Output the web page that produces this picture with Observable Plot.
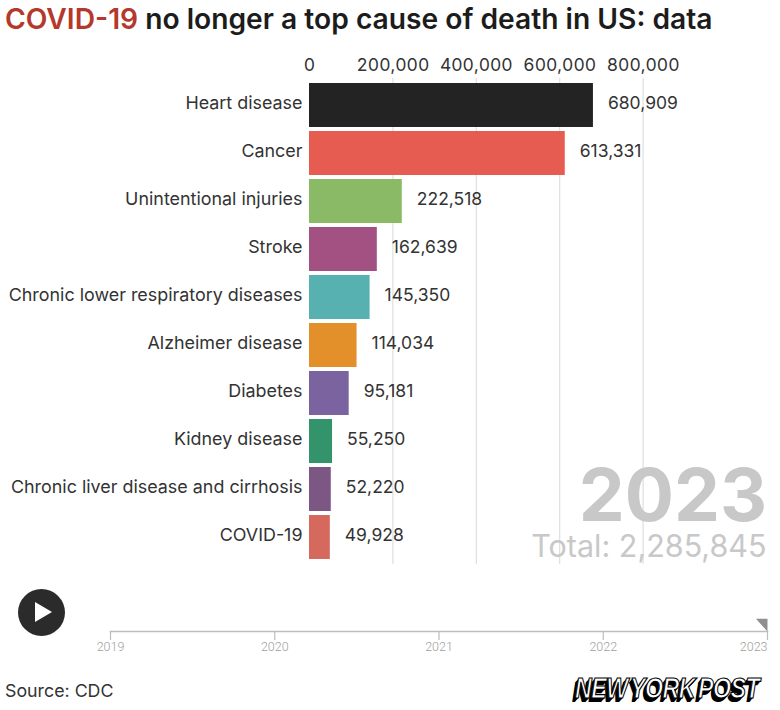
<!DOCTYPE html>
<html><head><meta charset="utf-8">
<script src="https://cdn.jsdelivr.net/npm/d3@7"></script>
<script src="https://cdn.jsdelivr.net/npm/@observablehq/plot@0.6"></script>
<style>
html,body{margin:0;background:#fff;font-family:Inter,sans-serif;}
#page{position:relative;width:780px;height:710px;overflow:hidden;}
#title{position:absolute;left:5px;top:0;font:600 28.2px/38px Inter,sans-serif;color:#1c1c1c;white-space:nowrap;}
#title b{font-weight:600;color:#b5382c;}
#chart{position:absolute;left:0;top:45px;}
#timeline{position:absolute;left:0;top:619px;}
#play{position:absolute;left:18px;top:589px;width:47px;height:47px;border-radius:50%;background:#2b2b2b;}
#play:after{content:"";position:absolute;left:17px;top:13px;border-left:17px solid #fff;border-top:10.5px solid transparent;border-bottom:10.5px solid transparent;}
#source{position:absolute;left:5px;top:680px;font:400 17.8px/22px Inter,sans-serif;color:#333;}
#logo{position:absolute;left:575px;top:671px;font:italic 700 29px/34px "Liberation Sans",sans-serif;color:#fff;-webkit-text-stroke:1.2px #000;letter-spacing:-0.6px;word-spacing:-4px;white-space:nowrap;text-shadow:-1px 1px 0 #000,-2px 2px 0 #000,-3px 3px 0 #000,-4px 4px 0 #000;transform:scaleX(0.8);transform-origin:left center;}
</style></head><body>
<div id="page">
<div id="title"><b>COVID-19</b> no longer a top cause of death in US: data</div>
<div id="chart"></div>
<div id="play"></div>
<div id="timeline"></div>
<div id="source">Source: CDC</div>
<div id="logo">NEW YORK POST</div>
</div>
<script>
const causes = ["Heart disease","Cancer","Unintentional injuries","Stroke","Chronic lower respiratory diseases","Alzheimer disease","Diabetes","Kidney disease","Chronic liver disease and cirrhosis","COVID-19"];
const deaths = [680909,613331,222518,162639,145350,114034,95181,55250,52220,49928];
const colors = ["#1f1f1f","#e5594d","#88b962","#a04e80","#55afaf","#e28e27","#78609e","#2f9268","#7a5482","#d4665a"];
const xTicks = [0,200000,400000,600000,800000];
const yearNow = ["2023"];
const totalNow = ["Total: 2,285,845"];
const years = [2019,2020,2021,2022,2023];

const rows = causes.map((c,i)=>({cause:c,value:deaths[i],color:colors[i]}));

const chart = Plot.plot({
  width:780,height:522,
  marginLeft:309,marginRight:137.4,marginTop:33,marginBottom:3,
  style:{fontFamily:"Inter, sans-serif",background:"transparent",overflow:"visible"},
  x:{domain:[0,800000],axis:null},
  y:{domain:causes,padding:0.087,axis:null},
  marks:[
    Plot.ruleX(xTicks.slice(1),{stroke:"#dcdcdc",strokeWidth:1.1}),
    Plot.barX(rows,{x:"value",y:"cause",fill:"color",fillOpacity:0.98}),
    Plot.axisX({anchor:"top",ticks:xTicks,tickFormat:d3.format(","),tickSize:0,tickPadding:7,fontSize:17.5,fill:"#333",label:null,dy:-1}),
    Plot.axisY({anchor:"left",tickSize:0,tickPadding:7,fontSize:17.9,fill:"#333",label:null,dy:-2}),
    Plot.text(rows,{x:"value",y:"cause",text:d=>d3.format(",")(d.value),textAnchor:"start",dx:14.5,dy:-2,fontSize:17.5,fill:"#333"}),
    Plot.text(yearNow,{text:d=>d,frameAnchor:"bottom-right",dx:124,dy:-44,fontSize:73,fontWeight:700,fill:"#c8c8c8"}),
    Plot.text(totalNow,{text:d=>d,frameAnchor:"bottom-right",dx:123.5,dy:-8,fontSize:30.5,fill:"#c8c8c8"})
  ]
});
document.getElementById("chart").append(chart);

const handle = {draw(ctx,size){const s=Math.sqrt(size);ctx.moveTo(-s,-s*1.1);ctx.lineTo(0,-s*1.1);ctx.lineTo(0,0);ctx.closePath();}};

const tl = Plot.plot({
  width:780,height:44,
  marginLeft:110,marginRight:13,marginTop:12,marginBottom:31,
  style:{fontFamily:"Roboto, sans-serif",background:"transparent",overflow:"visible"},
  x:{domain:[2019,2023],axis:null},
  marks:[
    Plot.frame({anchor:"top",stroke:"#bdbdbd",strokeWidth:1.6}),
    Plot.ruleX(years,{x:d=>d,stroke:"#bdbdbd",strokeWidth:1.2,insetBottom:-8}),
    Plot.text(years.slice(0,-1),{x:d=>d,text:d=>String(d),frameAnchor:"bottom",dy:18,fontSize:12.5,fontWeight:300,fill:"#a0a0a0"}),
    Plot.text(years.slice(-1),{x:d=>d,text:d=>String(d),textAnchor:"end",frameAnchor:"bottom",dy:18,fontSize:12.5,fontWeight:300,fill:"#a0a0a0"}),
    Plot.dot(years.slice(-1),{x:d=>d,frameAnchor:"top",symbol:handle,r:6.5,fill:"#8f8f8f"})
  ]
});
document.getElementById("timeline").append(tl);
</script>
</body></html>
